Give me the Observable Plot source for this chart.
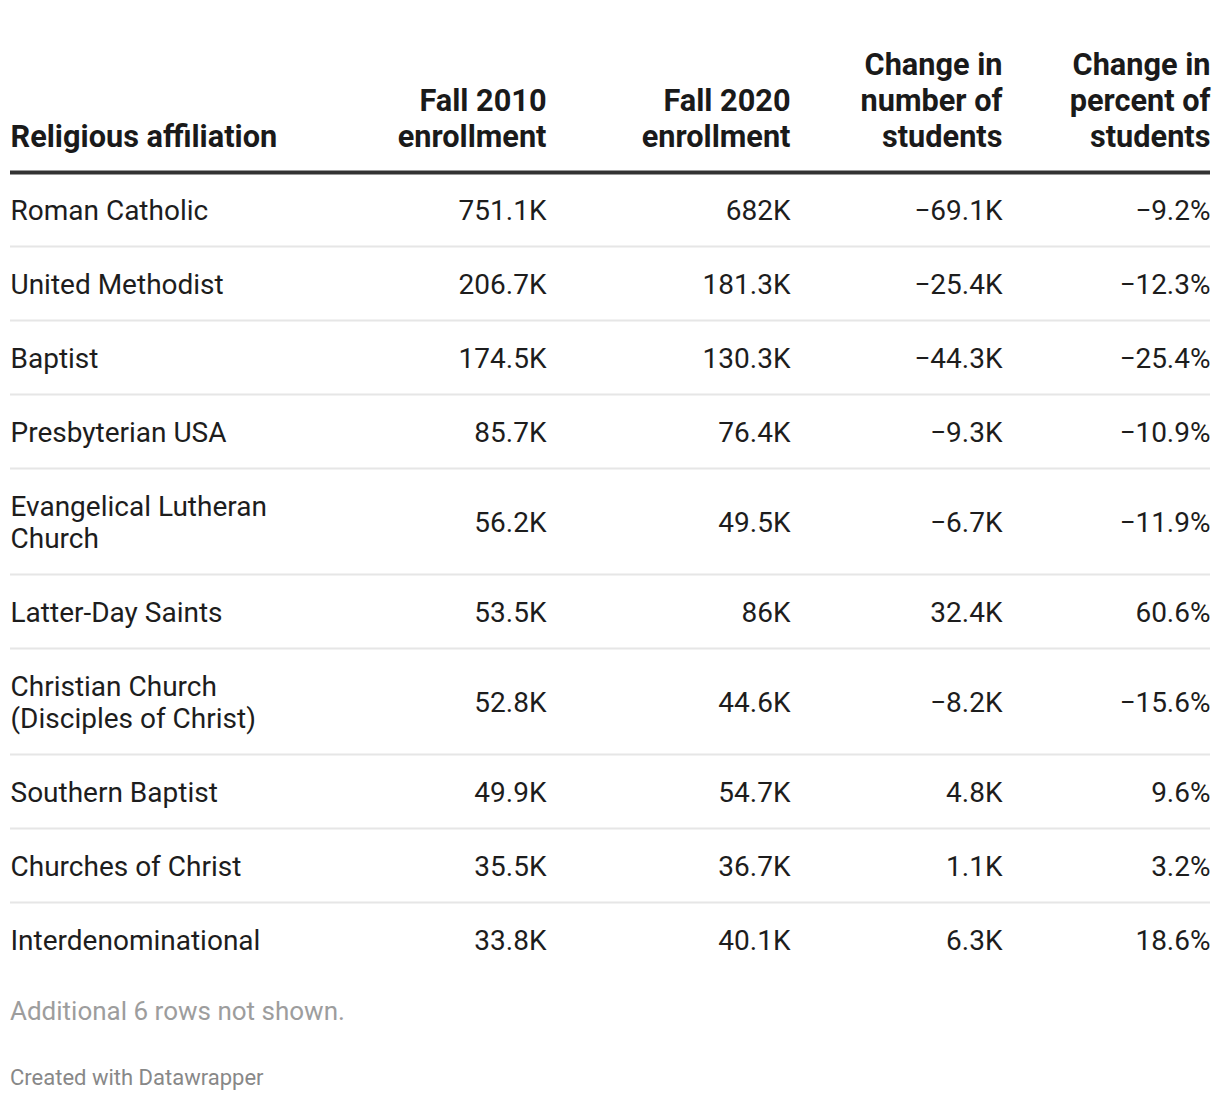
<!DOCTYPE html>
<html>
<head>
<meta charset="utf-8">
<script src="https://cdn.jsdelivr.net/npm/d3@7"></script>
<script src="https://cdn.jsdelivr.net/npm/@observablehq/plot@0.6"></script>
<style>
  html, body { margin: 0; padding: 0; background: #fff; }
  body { font-family: Roboto, "Noto Sans", sans-serif; width: 1220px; }
  #chart svg { display: block; }
  .notes { margin: 16px 0 0 10px; font-size: 26px; line-height: 30px; color: #9d9d9d; }
  .credit { margin: 39px 0 0 10px; font-size: 22px; line-height: 26px; color: #888; }
</style>
</head>
<body>
<div id="chart"></div>
<div class="notes">Additional 6 rows not shown.</div>
<div class="credit">Created with Datawrapper</div>
<script>
// ---- data (values in thousands of students, percent) ----
const headers = [
  "Religious affiliation",
  "Fall 2010\nenrollment",
  "Fall 2020\nenrollment",
  "Change in\nnumber of\nstudents",
  "Change in\npercent of\nstudents"
];
const names = [
  "Roman Catholic",
  "United Methodist",
  "Baptist",
  "Presbyterian USA",
  "Evangelical Lutheran\nChurch",
  "Latter-Day Saints",
  "Christian Church\n(Disciples of Christ)",
  "Southern Baptist",
  "Churches of Christ",
  "Interdenominational"
];
const fall2010 = [751.1, 206.7, 174.5, 85.7, 56.2, 53.5, 52.8, 49.9, 35.5, 33.8];
const fall2020 = [682, 181.3, 130.3, 76.4, 49.5, 86, 44.6, 54.7, 36.7, 40.1];
const changeNumber = [-69.1, -25.4, -44.3, -9.3, -6.7, 32.4, -8.2, 4.8, 1.1, 6.3];
const changePercent = [-9.2, -12.3, -25.4, -10.9, -11.9, 60.6, -15.6, 9.6, 3.2, 18.6];

// ---- layout ----
const W = 1220;
const left = 10, right = 1210;
const colAnchor = [left, 546, 790, 1002, right];
const headerBaseline = 146;
const headerRule = 172;
const basePad = 42, lineStep = 32;
const bodySize = 28, headSize = 30.7;

// build rows with cumulative positions
let cursor = headerRule;
const rows = names.map((name, i) => {
  const lines = name.split("\n").length;
  const h = basePad + lineStep * lines;
  const top = cursor;
  cursor += h;
  return {name, lines, top, bottom: top + h, mid: top + h / 2,
    v2010: fall2010[i], v2020: fall2020[i], dNum: changeNumber[i], dPct: changePercent[i]};
});
const H = cursor + 4;

const fmtK = v => d3.format(",.1f")(v).replace(/\.0$/, "") + "K";
const fmtP = v => d3.format(".1f")(v) + "%";

const headCols = headers.map((t, i) => ({t, i}));
const head = {y: () => headerBaseline, text: "t", lineAnchor: "bottom", fontWeight: "bold",
  fontSize: headSize, lineHeight: 36 / headSize, fill: "#1a1a1a"};
const txt = {fill: "#1d1d1d", fontSize: bodySize, lineHeight: lineStep / bodySize, lineAnchor: "middle"};

const chart = Plot.plot({
  width: W,
  height: H,
  margin: 0,
  style: {fontFamily: "Roboto, 'Noto Sans', sans-serif", background: "#fff"},
  x: {domain: [0, W], range: [0, W], axis: null},
  y: {domain: [0, H], range: [0, H], axis: null},
  marks: [
    // header
    Plot.text(headCols.filter(d => d.i === 0), {...head, x: d => colAnchor[d.i], textAnchor: "start"}),
    Plot.text(headCols.filter(d => d.i > 0), {...head, x: d => colAnchor[d.i], textAnchor: "end"}),
    Plot.ruleY([headerRule], {x1: left, x2: right, stroke: "#333", strokeWidth: 4}),
    // row separators
    Plot.ruleY(rows.slice(0, -1), {y: "bottom", x1: left, x2: right, stroke: "#e6e6e6", strokeWidth: 2}),
    // body cells
    Plot.text(rows, {...txt, x: colAnchor[0], y: "mid", text: "name", textAnchor: "start"}),
    Plot.text(rows, {...txt, x: colAnchor[1], y: "mid", text: d => fmtK(d.v2010), textAnchor: "end"}),
    Plot.text(rows, {...txt, x: colAnchor[2], y: "mid", text: d => fmtK(d.v2020), textAnchor: "end"}),
    Plot.text(rows, {...txt, x: colAnchor[3], y: "mid", text: d => fmtK(d.dNum), textAnchor: "end"}),
    Plot.text(rows, {...txt, x: colAnchor[4], y: "mid", text: d => fmtP(d.dPct), textAnchor: "end"})
  ]
});
document.getElementById("chart").appendChild(chart);
</script>
</body>
</html>
